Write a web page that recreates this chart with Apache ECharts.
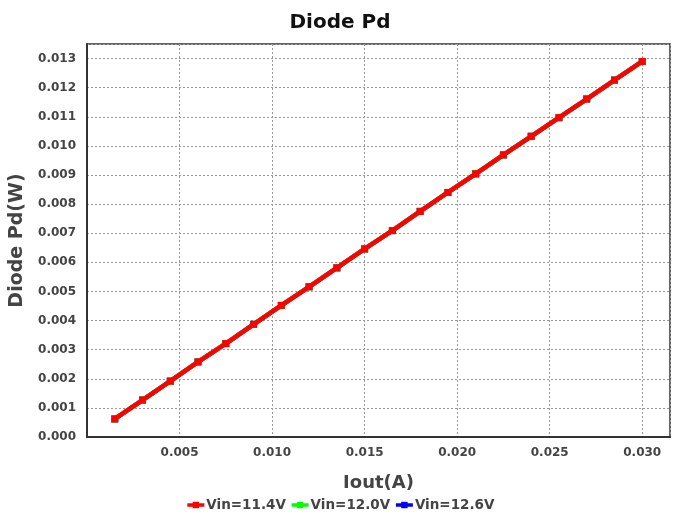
<!DOCTYPE html>
<html><head><meta charset="utf-8">
<script src="https://cdn.jsdelivr.net/npm/echarts@6/dist/echarts.min.js"></script>
<style>html,body{margin:0;padding:0;background:#fff}#c{width:680px;height:515px}</style>
</head><body><div id="c"></div>
<script>
const iout = [0.0015,0.003,0.0045,0.006,0.0075,0.009,0.0105,0.012,0.0135,0.015,0.0165,0.018,0.0195,0.021,0.0225,0.024,0.0255,0.027,0.0285,0.030];
const pd114 = [0.00062,0.00127,0.00192,0.00258,0.00321,0.00387,0.00452,0.00516,0.00581,0.00646,0.00709,0.00775,0.00840,0.00904,0.00969,0.01033,0.01097,0.01161,0.01226,0.01290];
const pd120 = [0.00062,0.00127,0.00192,0.00258,0.00321,0.00387,0.00452,0.00516,0.00581,0.00646,0.00709,0.00775,0.00840,0.00904,0.00969,0.01033,0.01097,0.01161,0.01226,0.01290];
const pd126 = [0.00062,0.00127,0.00192,0.00258,0.00321,0.00387,0.00452,0.00516,0.00581,0.00646,0.00709,0.00775,0.00840,0.00904,0.00969,0.01033,0.01097,0.01161,0.01226,0.01290];
const names = ['Vin=11.4V','Vin=12.0V','Vin=12.6V'];
const colors = ['#ff0000','#00ff00','#0000ff'];
const pair = a => iout.map((x,i)=>[x,a[i]]);
const font = '"DejaVu Sans", sans-serif';
const chart = echarts.init(document.getElementById('c'));
const mk = (name, data, color, z) => ({
  name, type:'line', data: pair(data), z,
  symbol:'rect', symbolSize:7, showSymbol:true,
  lineStyle:{color, width:4.5}, itemStyle:{color},
  animation:false
});
chart.setOption({
  animation:false,
  title:{text:'Diode Pd', left:'center', top:8, textStyle:{fontFamily:font, fontWeight:'bold', fontSize:20, color:'#111'}},
  grid:{left:86, right:10, top:44, bottom:78, show:true, borderColor:'#333', borderWidth:1.5},
  legend:{bottom:-2, left:'center', itemGap:4, itemWidth:17, itemHeight:8,
    lineStyle:{width:3.5},
    textStyle:{fontFamily:font, fontWeight:'bold', fontSize:13.5, color:'#444', padding:[0,0,0,-3]},
    data:names},
  xAxis:{type:'value', min:0, max:0.0315, interval:0.005,
    name:'Iout(A)', nameLocation:'middle', nameGap:37,
    nameTextStyle:{fontFamily:font, fontWeight:'bold', fontSize:18, color:'#444'},
    axisLine:{lineStyle:{color:'#333', width:2}}, axisTick:{show:false},
    axisLabel:{fontFamily:font, fontWeight:'bold', fontSize:12, color:'#444', margin:10,
      formatter:v=>{const k=Math.round(v/0.005); return (k>0 && Math.abs(v-k*0.005)<1e-9)? v.toFixed(3):'';}},
    splitLine:{show:true, lineStyle:{color:'#999', type:[2,2], width:1}}},
  yAxis:{type:'value', min:0, max:0.0135, interval:0.001,
    name:'Diode Pd(W)', nameLocation:'middle', nameGap:60,
    nameTextStyle:{fontFamily:font, fontWeight:'bold', fontSize:19, color:'#444'},
    axisLine:{show:true, lineStyle:{color:'#333', width:2}}, axisTick:{show:false},
    axisLabel:{fontFamily:font, fontWeight:'bold', fontSize:12, color:'#444', margin:11,
      formatter:v=>{const k=Math.round(v/0.001); return Math.abs(v-k*0.001)<1e-9? v.toFixed(3):'';}},
    splitLine:{show:true, lineStyle:{color:'#999', type:[2,2], width:1}}},
  series:[mk(names[0],pd114,colors[0],5), mk(names[1],pd120,colors[1],3), mk(names[2],pd126,colors[2],2)]
});
</script></body></html>
